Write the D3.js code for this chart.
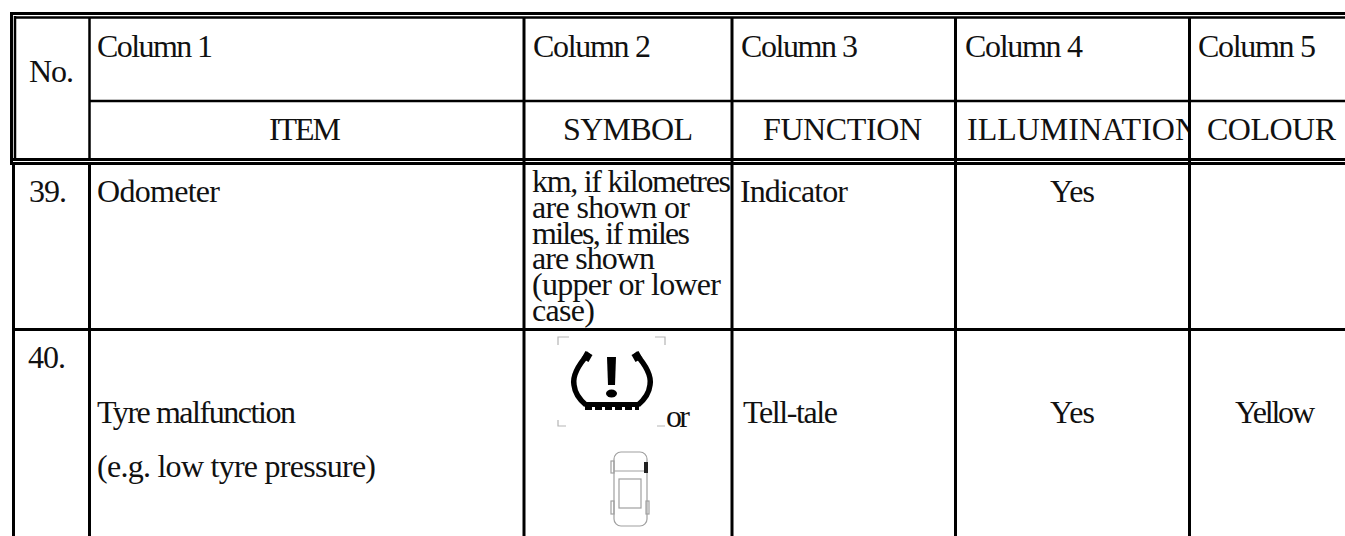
<!DOCTYPE html>
<html>
<head>
<meta charset="utf-8">
<script src="https://cdn.jsdelivr.net/npm/d3@7"></script>
<style>
html, body { margin: 0; padding: 0; background: #fff; overflow: hidden; }
text { font-family: "Liberation Serif", serif; font-size: 32px; fill: #111; }
</style>
</head>
<body>
<script>
const width = 1345, height = 536;

// table contents
const columns = ["No.", "Column 1", "Column 2", "Column 3", "Column 4", "Column 5"];
const headings = ["", "ITEM", "SYMBOL", "FUNCTION", "ILLUMINATION", "COLOUR"];
const numbers = ["39.", "40."];
const items = [["Odometer"], ["Tyre malfunction", "(e.g. low tyre pressure)"]];
const symbolLines = ["km, if kilometres", "are shown or", "miles, if miles", "are shown", "(upper or lower", "case)"];
const functions = ["Indicator", "Tell-tale"];
const illumination = ["Yes", "Yes"];
const colours = ["", "Yellow"];

// measured width of each string, the source squeezes them unevenly
const fitWidth = new Map([
    ["No.", 45], ["Column 1", 116], ["Column 2", 118], ["Column 3", 117], ["Column 4", 118], ["Column 5", 118],
    ["ITEM", 72], ["SYMBOL", 130], ["FUNCTION", 159], ["ILLUMINATION", 231], ["COLOUR", 129],
    ["39.", 38], ["40.", 38], ["Odometer", 123], ["Tyre malfunction", 199], ["(e.g. low tyre pressure)", 279],
    ["km, if kilometres", 199], ["are shown or", 158], ["miles, if miles", 158], ["are shown", 123],
    ["(upper or lower", 189], ["case)", 63],
    ["Indicator", 108], ["Tell-tale", 95], ["Yes", 45], ["Yellow", 80], ["or", 24]
]);

const svg = d3.select("body").append("svg")
    .attr("width", width)
    .attr("height", height)
    .style("display", "block");

const defs = svg.append("defs");
defs.append("filter").attr("id", "soft")
    .append("feGaussianBlur").attr("stdDeviation", 0.6);
defs.append("clipPath").attr("id", "headClip")
    .append("rect").attr("x", 0).attr("y", 100).attr("width", 1188).attr("height", 60);

// left edge and middle of each column
const colLeft = d3.scaleOrdinal().domain(columns).range([14, 89.5, 524, 732, 955.5, 1189.5]);
const colMid = d3.scaleOrdinal().domain(columns).range([52, 305, 628, 842.5, 1072.5, 1271.5]);
const colText = d3.scaleOrdinal().domain(columns).range([29, 97, 533, 741, 965, 1198]);

function line(x1, y1, x2, y2, w) {
    svg.append("line")
        .attr("x1", x1).attr("y1", y1).attr("x2", x2).attr("y2", y2)
        .attr("stroke", "#000").attr("stroke-width", w);
}

function label(str, x, y, anchor) {
    return svg.append("text")
        .attr("x", x).attr("y", y)
        .attr("text-anchor", anchor || "start")
        .attr("textLength", fitWidth.get(str))
        .attr("lengthAdjust", "spacing")
        .text(str);
}

// headings
label(columns[0], colText("No."), 82);
columns.slice(1).forEach((c, i) => {
    label(c, colText(c), 57);
    if (c === "Column 4") {
        label(headings[i + 1], 967, 140).attr("clip-path", "url(#headClip)");
    } else {
        label(headings[i + 1], colMid(c), 140, "middle");
    }
});

// row 39
label(numbers[0], 29, 202);
label(items[0][0], 97, 202);
symbolLines.forEach((s, i) => label(s, 532, 192 + i * 25.8));
label(functions[0], 740, 202);
label(illumination[0], colMid("Column 4"), 202, "middle");

// row 40
label(numbers[1], 28, 368);
label(items[1][0], 97, 423);
label(items[1][1], 97, 477);
label("or", 666, 427);
label(functions[1], 743, 423);
label(illumination[1], colMid("Column 4"), 423, "middle");
label(colours[1], 1275, 423, "middle");

// rules
line(10, 13.5, width, 13.5, 3);
line(14, 17.5, width, 17.5, 2.5);
line(11.5, 12, 11.5, 165, 3);
line(15, 16, 15, 160, 2.5);
line(10, 159.5, width, 159.5, 3);
line(10, 163.5, width, 163.5, 3);
line(89.5, 17, 89.5, 161, 2.5);
line(89.5, 101, width, 101, 2.5);
line(13.5, 164, 13.5, height, 3);
line(89.5, 164, 89.5, height, 3);
line(14, 329.5, width, 329.5, 3);
columns.slice(2).forEach(c => {
    line(colLeft(c), 17, colLeft(c), height, 3);
});

// tyre icon
const tyre = svg.append("g").attr("filter", "url(#soft)");
tyre.append("path")
    .attr("d", "M589,353 C580,363 572,375 574,385 C575,394 580,400 586,405")
    .attr("fill", "none").attr("stroke", "#000").attr("stroke-width", 5.5);
tyre.append("path")
    .attr("d", "M635,353 C644,363 652,375 650,385 C649,394 644,400 638,405")
    .attr("fill", "none").attr("stroke", "#000").attr("stroke-width", 5.5);
tyre.append("path").attr("d", "M589,353 L585,360").attr("stroke", "#000").attr("stroke-width", 8);
tyre.append("path").attr("d", "M635,353 L639,360").attr("stroke", "#000").attr("stroke-width", 8);
tyre.append("path")
    .attr("d", "M585,404.5 L639,404.5")
    .attr("stroke", "#000").attr("stroke-width", 5);
tyre.append("path")
    .attr("d", "M585,408 L639,408")
    .attr("stroke", "#000").attr("stroke-width", 4).attr("stroke-dasharray", "7 3");
tyre.append("path")
    .attr("d", "M607,357 L616,357 L615,385 L608,385 Z")
    .attr("fill", "#000");
tyre.append("ellipse")
    .attr("cx", 611.5).attr("cy", 393.5).attr("rx", 5.5).attr("ry", 4).attr("fill", "#000");

svg.append("path")
    .attr("d", "M558,345 L558,337 L569,337 M665,345 L665,337 L655,337 M558,420 L558,426 L566,426 M665,426 L657,426")
    .attr("fill", "none").attr("stroke", "#b5b5b5").attr("stroke-width", 1.2);

// car icon
const car = svg.append("g")
    .attr("fill", "none").attr("stroke", "#a0a0a0").attr("stroke-width", 1.2);
car.append("rect").attr("x", 614).attr("y", 452).attr("width", 33).attr("height", 74).attr("rx", 7);
car.append("rect").attr("x", 619).attr("y", 479).attr("width", 22).attr("height", 29);
car.append("path").attr("d", "M614,471 L647,471");
car.append("rect").attr("x", 611).attr("y", 461).attr("width", 3).attr("height", 12);
car.append("rect").attr("x", 611).attr("y", 501).attr("width", 3).attr("height", 13);
car.append("rect").attr("x", 646).attr("y", 501).attr("width", 3).attr("height", 13);
svg.append("rect").attr("x", 644).attr("y", 462).attr("width", 4).attr("height", 11).attr("fill", "#222");
</script>
</body>
</html>
